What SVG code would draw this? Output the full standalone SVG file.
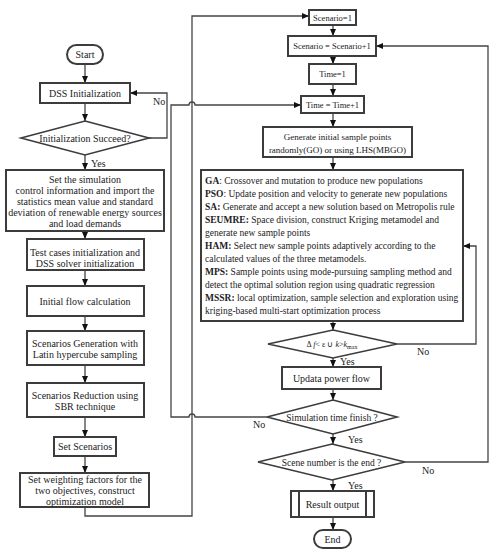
<svg xmlns="http://www.w3.org/2000/svg" width="491" height="550" viewBox="0 0 491 550">
<defs>
<marker id="ah" markerWidth="7" markerHeight="6" refX="7" refY="3" orient="auto" markerUnits="userSpaceOnUse">
<path d="M0,0 L7,3 L0,6 Z" fill="#111"/>
</marker>
<style>
.bx{fill:#fff;stroke:#3c3c3c;stroke-width:2}
.dm{fill:#fff;stroke:#3c3c3c;stroke-width:1.6}
.ln{fill:none;stroke:#444;stroke-width:1.3}
.ar{fill:none;stroke:#444;stroke-width:1.3;marker-end:url(#ah)}
text{font-family:"Liberation Serif","Times New Roman",serif;font-size:10px;fill:#222}
.c{text-anchor:middle}
.s{font-size:9.5px}
.t{font-size:8.5px}
.b{font-weight:bold}
</style>
</defs>
<rect width="491" height="550" fill="#fff"/>
<g id="connectors">
<path class="ar" d="M85,64 V83"/>
<path class="ar" d="M85,103 V121"/>
<path class="ar" d="M149,138 H167 V93 H130"/>
<path class="ar" d="M85,155 V170"/>
<path class="ar" d="M85,231 V239"/>
<path class="ar" d="M85,270 V286"/>
<path class="ar" d="M85,316 V331"/>
<path class="ar" d="M85,365 V383"/>
<path class="ar" d="M85,417 V437"/>
<path class="ar" d="M85,456 V473"/>
<path class="ar" d="M85,507 V516 H192 V16 H309"/>
<path class="ar" d="M333,25 V36"/>
<path class="ar" d="M333,56 V64"/>
<path class="ar" d="M333,84 V96"/>
<path class="ar" d="M333,113 V127"/>
<path class="ar" d="M333,157 V170"/>
<path class="ar" d="M333,321 V330"/>
<path class="ar" d="M397,344 H476 V246 H463"/>
<path class="ar" d="M333,358 V367"/>
<path class="ar" d="M333,389 V400"/>
<path class="ar" d="M267,417 H195 A3,3 0 0 0 189,417 H171 V105 H189 A3,3 0 0 1 195,105 H301"/>
<path class="ar" d="M333,434 V444"/>
<path class="ar" d="M405,462 H488 V46 H376"/>
<path class="ar" d="M333,480 V491"/>
<path class="ar" d="M333,517 V530"/>
<text x="153" y="105">No</text>
<text x="91" y="167">Yes</text>
<text x="417" y="355">No</text>
<text x="340" y="365">Yes</text>
<text x="253" y="428">No</text>
<text x="348" y="443">Yes</text>
<text x="422" y="474">No</text>
<text x="348" y="489">Yes</text>
</g>
<g id="start"><rect class="bx" x="67" y="45" width="36" height="19" rx="9.5"/><text class="c" x="85" y="58">Start</text></g>
<g id="dss-init"><rect class="bx" x="40" y="83" width="90" height="20"/><text class="c" x="85" y="96.5">DSS Initialization</text></g>
<g id="init-succeed"><polygon class="dm" points="85,121 149,138 85,155 21,138"/><text class="c" x="85" y="141.5">Initialization Succeed?</text></g>
<g id="set-simulation"><rect class="bx" x="6" y="170" width="158" height="61"/>
<text class="c" x="85" y="182.5">Set  the simulation</text>
<text class="c" x="85" y="194">control information and import the</text>
<text class="c" x="85" y="205">statistics mean value and standard</text>
<text class="c" x="85" y="216">deviation of renewable energy sources</text>
<text class="c" x="85" y="227">and load demands</text></g>
<g id="test-cases"><rect class="bx" x="27" y="239" width="117" height="31"/><text class="c" x="85" y="255.5">Test cases initialization and</text><text class="c" x="85" y="266.5">DSS solver initialization</text></g>
<g id="initial-flow"><rect class="bx" x="27" y="286" width="117" height="30"/><text class="c" x="85" y="304.5">Initial flow calculation</text></g>
<g id="scen-gen"><rect class="bx" x="27" y="331" width="117" height="34"/><text class="c" x="85" y="346.5">Scenarios Generation with</text><text class="c" x="85" y="358">Latin hypercube sampling</text></g>
<g id="scen-red"><rect class="bx" x="27" y="383" width="117" height="34"/><text class="c" x="85" y="398.5">Scenarios Reduction using</text><text class="c" x="85" y="410">SBR  technique</text></g>
<g id="set-scenarios"><rect class="bx" x="54" y="437" width="62" height="19"/><text class="c" x="85" y="450">Set Scenarios</text></g>
<g id="weighting"><rect class="bx" x="20" y="473" width="129" height="34"/><text class="c" x="85" y="483">Set weighting factors for the</text><text class="c" x="85" y="494">two objectives, construct</text><text class="c" x="85" y="505">optimization model</text></g>
<g id="scenario1"><rect class="bx" x="309" y="10" width="47" height="15"/><text class="c t" x="332.5" y="20.5">Scenario=1</text></g>
<g id="scenario-inc"><rect class="bx" x="288" y="36" width="88" height="20"/><text class="c t" x="332" y="49">Scenario = Scenario+1</text></g>
<g id="time1"><rect class="bx" x="309" y="64" width="47" height="20"/><text class="c t" x="332.5" y="77">Time=1</text></g>
<g id="time-inc"><rect class="bx" x="301" y="96" width="63" height="17"/><text class="c t" x="332.5" y="107.5">Time = Time+1</text></g>
<g id="generate"><rect class="bx" x="263" y="127" width="149" height="30"/><text class="c" x="337.5" y="139.5" style="font-size:9px">Generate initial sample points</text><text class="c" x="337.5" y="152.5" style="font-size:9px">randomly(GO) or  using LHS(MBGO)</text></g>
<g id="algorithms"><rect class="bx" x="201" y="170" width="262" height="151"/>
<text class="s" x="205" y="183.5"><tspan class="b">GA</tspan>: Crossover and mutation to produce new populations</text>
<text class="s" x="205" y="196.5"><tspan class="b">PSO</tspan>: Update  position and velocity to generate new populations</text>
<text class="s" x="205" y="209.5"><tspan class="b">SA:</tspan> Generate and accept a new solution based on Metropolis rule</text>
<text class="s" x="205" y="222.5"><tspan class="b">SEUMRE:</tspan> Space division, construct Kriging metamodel and</text>
<text class="s" x="205" y="235.5">generate new sample points</text>
<text class="s" x="205" y="248.5"><tspan class="b">HAM:</tspan> Select new sample points adaptively according to the</text>
<text class="s" x="205" y="261.5">calculated values of the three metamodels.</text>
<text class="s" x="205" y="274.5"><tspan class="b">MPS:</tspan> Sample points using mode-pursuing sampling method and</text>
<text class="s" x="205" y="287.5">detect the optimal solution region using quadratic regression</text>
<text class="s" x="205" y="300.5"><tspan class="b">MSSR:</tspan> local optimization, sample selection and exploration using</text>
<text class="s" x="205" y="313.5">kriging-based multi-start optimization process</text></g>
<g id="converge"><polygon class="dm" points="333,330 397,344 333,358 268,344"/><text class="c" x="332" y="347" style="font-size:8px">Δ <tspan font-style="italic">f</tspan>&lt; ε  ∪ <tspan font-style="italic">k</tspan>&gt;<tspan font-style="italic">k</tspan><tspan style="font-size:6px" dy="1.5">max</tspan></text></g>
<g id="update-flow"><rect class="bx" x="282" y="367" width="99" height="22"/><text class="c" x="331.5" y="381.5">Updata power flow</text></g>
<g id="sim-finish"><polygon class="dm" points="333,400 397,417 333,434 267,417"/><text class="c s" x="332" y="420.5">Simulation time finish ?</text></g>
<g id="scene-end"><polygon class="dm" points="332,444 405,462 332,480 258,462"/><text class="c s" x="331.5" y="465.5">Scene number is the end ?</text></g>
<g id="result"><rect class="bx" x="291" y="491" width="83" height="26"/><path class="ln" d="M299,491 V517 M366,491 V517" style="stroke-width:2;stroke:#3c3c3c"/><text class="c" x="332.5" y="507.5">Result output</text></g>
<g id="end"><rect class="bx" x="314" y="530" width="37" height="18" rx="9"/><text class="c" x="332.5" y="542.5">End</text></g>
</svg>
